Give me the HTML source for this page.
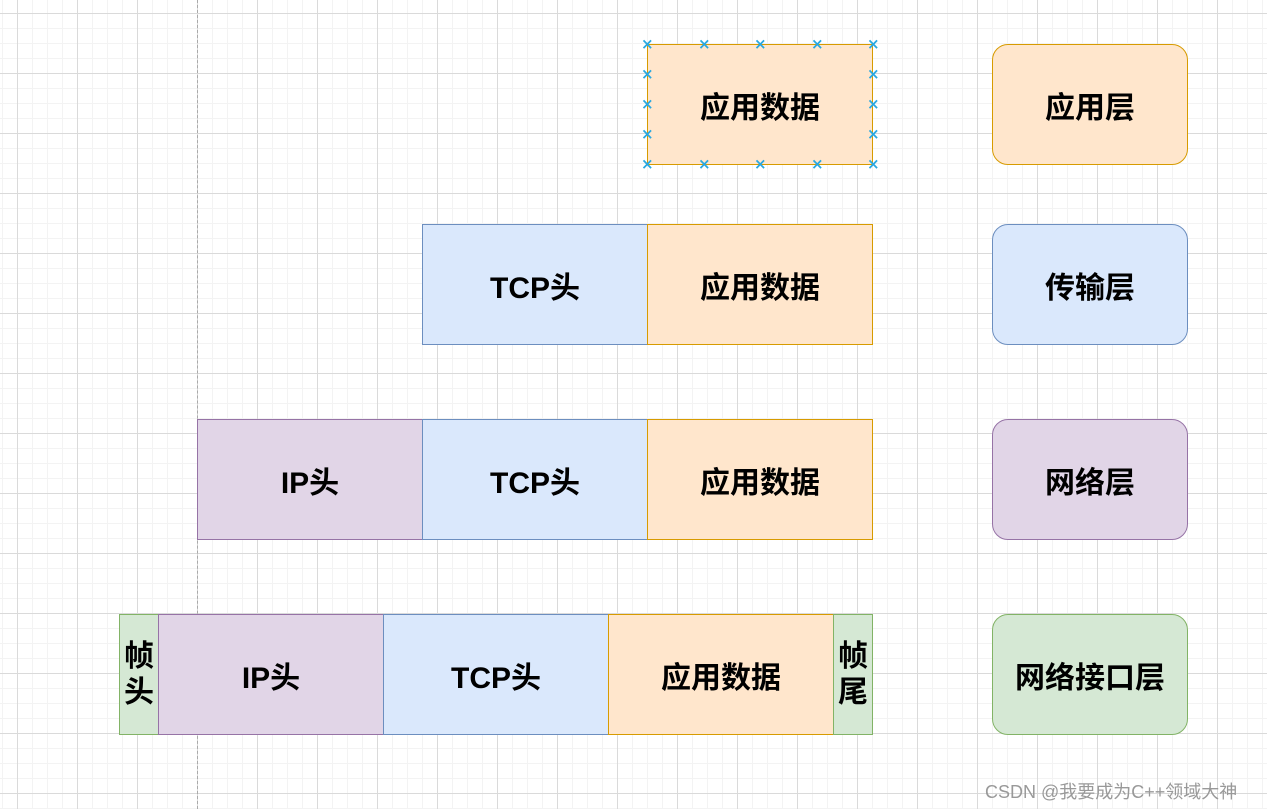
<!DOCTYPE html>
<html><head><meta charset="utf-8"><style>
html,body{margin:0;padding:0}
body{width:1267px;height:809px;position:relative;overflow:hidden;background:#fff;
background-image:linear-gradient(#dadada 1px,transparent 1px),linear-gradient(90deg,#dadada 1px,transparent 1px),linear-gradient(#f3f3f3 1px,transparent 1px),linear-gradient(90deg,#f3f3f3 1px,transparent 1px);
background-size:60px 60px,60px 60px,15px 15px,15px 15px;background-position:0 13px,17px 0,0 13px,17px 0;
font-family:"Liberation Sans","Noto Sans CJK SC",sans-serif;font-weight:bold}
.b{position:absolute;box-sizing:border-box;display:flex;align-items:center;justify-content:center;font-size:30px;color:#000;border:1.5px solid}
.o{background:#ffe6cc;border-color:#d79b00}.bl{background:#dae8fc;border-color:#6c8ebf}
.p{background:#e1d5e7;border-color:#9673a6}.g{background:#d5e8d4;border-color:#82b366}
.r{border-radius:16px}
.v{line-height:36px;text-align:center}
.dash{position:absolute;left:197px;top:0;height:809px;border-left:1px dashed #aaa}
.x{position:absolute;color:#29a8e0;font-size:15px;font-weight:bold;width:12px;height:12px;line-height:12px;text-align:center;margin:-6px 0 0 -6px;font-family:"DejaVu Sans",sans-serif}
</style></head><body>
<div class="dash"></div>
<div class="b o" style="left:647px;top:44px;width:226px;height:121px">应用数据</div>
<div class="b bl" style="left:422px;top:224px;width:226px;height:121px">TCP头</div>
<div class="b o" style="left:647px;top:224px;width:226px;height:121px">应用数据</div>
<div class="b p" style="left:197px;top:419px;width:226px;height:121px">IP头</div>
<div class="b bl" style="left:422px;top:419px;width:226px;height:121px">TCP头</div>
<div class="b o" style="left:647px;top:419px;width:226px;height:121px">应用数据</div>
<div class="b g" style="left:119px;top:614px;width:40px;height:121px"><div class="v">帧<br>头</div></div>
<div class="b p" style="left:158px;top:614px;width:226px;height:121px">IP头</div>
<div class="b bl" style="left:383px;top:614px;width:226px;height:121px">TCP头</div>
<div class="b o" style="left:608px;top:614px;width:226px;height:121px">应用数据</div>
<div class="b g" style="left:833px;top:614px;width:40px;height:121px"><div class="v">帧<br>尾</div></div>
<div class="b o r" style="left:992px;top:44px;width:196px;height:121px">应用层</div>
<div class="b bl r" style="left:992px;top:224px;width:196px;height:121px">传输层</div>
<div class="b p r" style="left:992px;top:419px;width:196px;height:121px">网络层</div>
<div class="b g r" style="left:992px;top:614px;width:196px;height:121px">网络接口层</div>
<div class="x" style="left:647px;top:44px">×</div><div class="x" style="left:704px;top:44px">×</div><div class="x" style="left:760px;top:44px">×</div><div class="x" style="left:817px;top:44px">×</div><div class="x" style="left:873px;top:44px">×</div>
<div class="x" style="left:647px;top:164px">×</div><div class="x" style="left:704px;top:164px">×</div><div class="x" style="left:760px;top:164px">×</div><div class="x" style="left:817px;top:164px">×</div><div class="x" style="left:873px;top:164px">×</div>
<div class="x" style="left:647px;top:74px">×</div><div class="x" style="left:647px;top:104px">×</div><div class="x" style="left:647px;top:134px">×</div>
<div class="x" style="left:873px;top:74px">×</div><div class="x" style="left:873px;top:104px">×</div><div class="x" style="left:873px;top:134px">×</div>
<div style="position:absolute;left:985px;top:778px;font-size:18px;font-weight:normal;color:#999">CSDN @我要成为C++领域大神</div>
</body></html>
